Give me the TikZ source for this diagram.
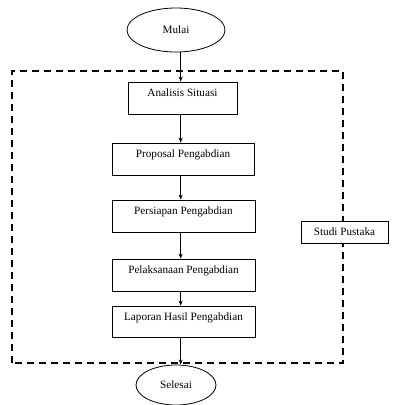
\documentclass[tikz,border=0pt]{standalone}
\usepackage{fontspec}
\setmainfont{Liberation Serif}
\usetikzlibrary{shapes.geometric,arrows.meta}
\begin{document}
\begin{tikzpicture}[x=1pt,y=-1pt,
  font=\fontsize{11.2}{13}\selectfont,
  stepbox/.style={draw,line width=0.8pt,rectangle,inner sep=0pt,fill=white,
    text height=14pt},
  term/.style={draw,line width=0.8pt,ellipse,inner sep=0pt,fill=white},
  arr/.style={line width=0.7pt,-{Stealth[length=5pt,width=4pt]}},
  frame/.style={line width=1.6pt,dash pattern=on 7pt off 5pt}]
\useasboundingbox (0,0) rectangle (393,405);
\coordinate (ax) at (180.7,0);
% dashed frame
\draw[frame] (12,363) -- (12,71) -- (343,71) -- (343,363) -- cycle;
% terminals
\node[term,minimum width=98pt,minimum height=44pt] (mulai) at (176,30) {Mulai};
\node[term,minimum width=80pt,minimum height=40pt] (selesai) at (176,385) {Selesai};
% steps
\node[stepbox,minimum width=109pt,minimum height=32pt,text depth=18pt] (analisis) at (182.5,98) {Analisis Situasi};
\node[stepbox,minimum width=142pt,minimum height=32pt,text depth=18pt] (proposal) at (183,159) {Proposal Pengabdian};
\node[stepbox,minimum width=143pt,minimum height=32pt,text depth=18pt] (persiapan) at (183.5,216) {Persiapan Pengabdian};
\node[stepbox,minimum width=143pt,minimum height=32pt,text depth=18pt] (pelaksanaan) at (183.5,275) {Pelaksanaan Pengabdian};
\node[stepbox,minimum width=143pt,minimum height=31pt,text depth=17pt] (laporan) at (183.5,321.5) {Laporan Hasil Pengabdian};
\node[stepbox,minimum width=87pt,minimum height=22pt,text depth=8pt] (studi) at (344.5,232) {Studi Pustaka};
% arrows
\draw[arr] (mulai.south -| ax) -- (analisis.north -| ax);
\draw[arr] (analisis.south -| ax) -- (proposal.north -| ax);
\draw[arr] (proposal.south -| ax) -- (persiapan.north -| ax);
\draw[arr] (persiapan.south -| ax) -- (pelaksanaan.north -| ax);
\draw[arr] (pelaksanaan.south -| ax) -- (laporan.north -| ax);
\draw[arr] (laporan.south -| ax) -- (selesai.north -| ax);
\end{tikzpicture}
\end{document}
